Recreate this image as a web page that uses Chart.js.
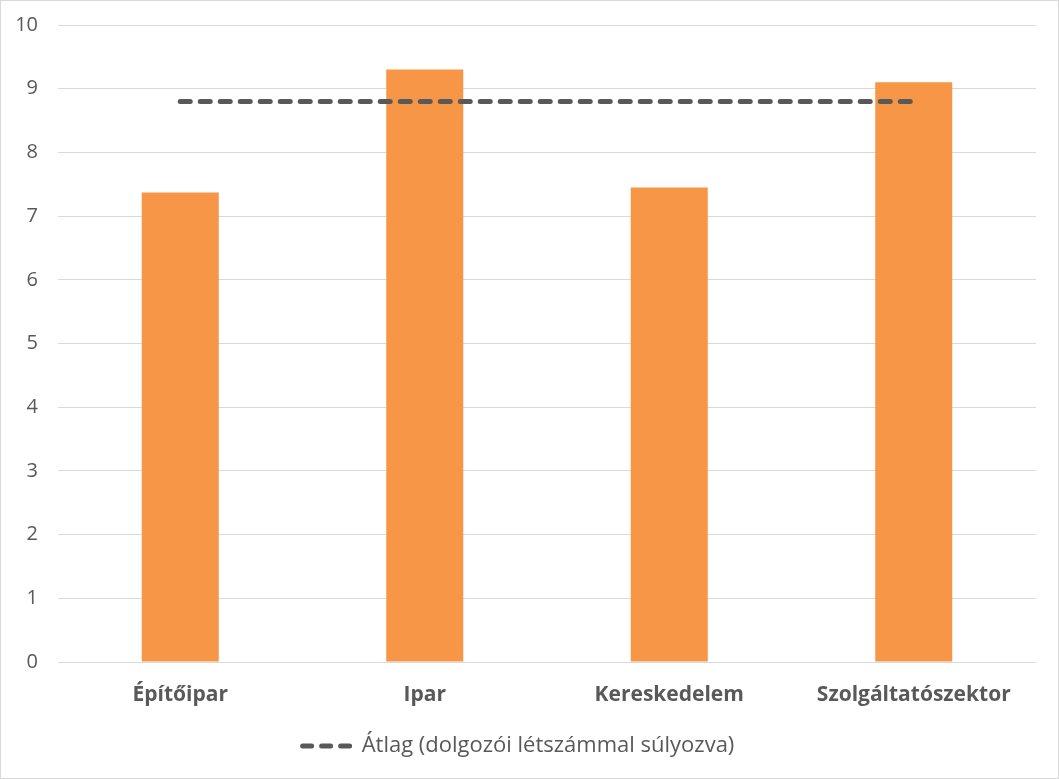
<!DOCTYPE html>
<html>
<head>
<meta charset="utf-8">
<script src="https://cdn.jsdelivr.net/npm/chart.js@4.4.1/dist/chart.umd.min.js"></script>
<style>
  html, body { margin: 0; padding: 0; background: #fff; }
  #wrap { width: 1059px; height: 779px; box-sizing: border-box; border: 1px solid #d9d9d9; }
</style>
</head>
<body>
<div id="wrap"><canvas id="myChart"></canvas></div>
<script>
// Adatok
const categories = ['Építőipar', 'Ipar', 'Kereskedelem', 'Szolgáltatószektor']
const sectorValues = [7.37, 9.3, 7.45, 9.1]
const averageValues = [8.8, 8.8, 8.8, 8.8]
const averageLabel = 'Átlag (dolgozói létszámmal súlyozva)'
const yTicks = [0, 1, 2, 3, 4, 5, 6, 7, 8, 9, 10]

const fontFamily = "'Open Sans', 'Noto Sans', sans-serif"
const textColor = '#595959'

const ctx = document.getElementById('myChart').getContext('2d')

const data = {
  labels: categories,
  datasets: [
    {
      type: 'line',
      label: averageLabel,
      data: averageValues,
      borderColor: '#595959',
      backgroundColor: '#595959',
      borderWidth: 5,
      borderDash: [10, 10],
      borderCapStyle: 'round',
      pointRadius: 0,
      fill: false,
      order: 0,
    },
    {
      type: 'bar',
      label: 'Érték',
      data: sectorValues,
      backgroundColor: '#f79646',
      categoryPercentage: 1,
      barPercentage: 0.315,
      order: 1,
    },
  ],
}

const options = {
  responsive: true,
  maintainAspectRatio: false,
  animation: false,
  layout: { padding: { top: 24, right: 22, bottom: 11, left: 0 } },
  plugins: {
    tooltip: { enabled: false },
    legend: {
      position: 'bottom',
      labels: {
        color: textColor,
        font: { family: fontFamily, size: 22 },
        padding: 10,
        usePointStyle: true,
        pointStyle: 'line',
        pointStyleWidth: 48,
        filter: (item) => item.datasetIndex === 0,
        generateLabels: (chart) => {
          const items = Chart.defaults.plugins.legend.labels.generateLabels(chart)
          items.forEach((it) => {
            it.lineDash = [9, 10]
            it.lineCap = 'round'
            it.lineWidth = 5
            it.pointStyle = 'line'
          })
          return items
        },
      },
    },
  },
  scales: {
    x: {
      grid: { display: false, drawTicks: false },
      border: { display: false },
      ticks: {
        color: textColor,
        font: { family: fontFamily, size: 21, weight: 'bold' },
        padding: 20,
      },
      afterFit: (scale) => { scale.height = 63 },
    },
    y: {
      min: 0,
      max: 10,
      afterBuildTicks: (scale) => { scale.ticks = yTicks.map((v) => ({ value: v })) },
      grid: { color: '#d9d9d9', drawTicks: false },
      border: { display: false },
      ticks: {
        color: textColor,
        font: { family: fontFamily, size: 20 },
        padding: 20,
      },
      afterFit: (scale) => {
        scale.width = 57
        scale.paddingTop = 0
        scale.paddingBottom = 0
      },
    },
  },
}

const myChart = new Chart(ctx, {
  data: data,
  options: options,
})
</script>
</body>
</html>
